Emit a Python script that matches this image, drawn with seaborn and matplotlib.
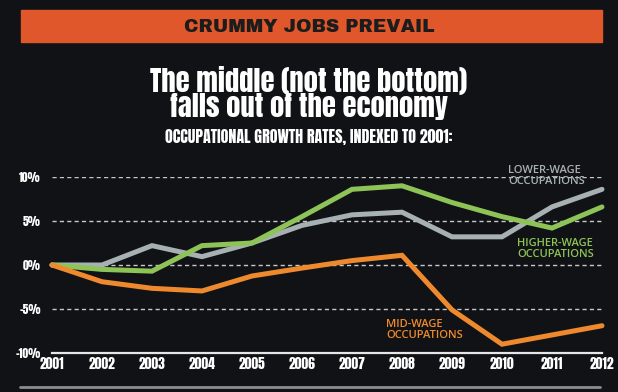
import pandas as pd
import numpy as np
import matplotlib.pyplot as plt
import seaborn as sns

years = list(range(2001, 2013))
lower_wage = [0, 0, 2.2, 0.95, 2.5, 4.5, 5.7, 6.0, 3.2, 3.2, 6.6, 8.6]
higher_wage = [0, -0.5, -0.7, 2.2, 2.5, 5.5, 8.6, 9.0, 7.1, 5.5, 4.2, 6.6]
mid_wage = [0, -1.9, -2.65, -2.95, -1.25, -0.35, 0.5, 1.1, -5.1, -9.0, -7.95, -6.9]
yticks = [-10, -5, 0, 5, 10]
ytick_labels = ["-10%", "-5%", "0%", "5%", "10%"]

bg = "#111216"
sns.set_style("dark", {"axes.facecolor": bg, "figure.facecolor": bg})
plt.rcParams["font.family"] = ["Anton", "DejaVu Sans"]
heavy = ["Anton", "DejaVu Sans"]
label_font = ["Open Sans", "DejaVu Sans"]

df = pd.DataFrame({
    "year": years * 3,
    "value": lower_wage + higher_wage + mid_wage,
    "group": ["lower"] * 12 + ["higher"] * 12 + ["mid"] * 12,
})
palette = {"lower": "#a7b1b4", "higher": "#8dc357", "mid": "#ee8a2d"}

fig = plt.figure(figsize=(6.18, 3.92), dpi=100)
ax = fig.add_axes([52 / 618, 39 / 392, 550 / 618, 176 / 392])

sns.lineplot(data=df, x="year", y="value", hue="group", palette=palette,
             hue_order=["lower", "higher", "mid"], linewidth=3.6, legend=False,
             ax=ax, clip_on=False, zorder=3)
for line in ax.lines:
    line.set_solid_joinstyle("miter")
    line.set_solid_capstyle("round")

ax.set_xlim(2001, 2012)
ax.set_ylim(-10, 10)
for y in [-5, 0, 5, 10]:
    ax.axhline(y, color="#c8c8c8", lw=1, ls=(0, (3, 2.3)), zorder=1)
ax.grid(False)
ax.set_yticks(yticks)
ax.set_yticklabels(ytick_labels)
ax.set_xticks(years)
ax.set_xticklabels([str(y) for y in years])
for s in ["top", "right", "left"]:
    ax.spines[s].set_visible(False)
ax.spines["bottom"].set_color("#e6e6e6")
ax.spines["bottom"].set_linewidth(1.6)
ax.tick_params(axis="x", direction="in", length=5, width=1.6, color="#e6e6e6",
               labelsize=9.8, labelcolor="white", pad=3)
ax.tick_params(axis="y", length=0, labelsize=8.3, labelcolor="white", pad=8)
ax.set_xlabel("")
ax.set_ylabel("")

ax.text(2010.12, 10.06, "LOWER-WAGE\nOCCUPATIONS", color="#a7b1b4", fontsize=8,
        ha="left", va="center", linespacing=1.0, family=label_font,
        fontweight="semibold")
ax.text(2010.3, 1.82, "HIGHER-WAGE\nOCCUPATIONS", color="#8dc357", fontsize=8,
        ha="left", va="center", linespacing=1.0, family=label_font,
        fontweight="semibold")
ax.text(2007.68, -7.44, "MID-WAGE\nOCCUPATIONS", color="#ee8a2d", fontsize=8,
        ha="left", va="center", linespacing=1.0, family=label_font,
        fontweight="semibold")

# banner
fig.patches.append(plt.Rectangle((21 / 618, 1 - 42 / 392), 581 / 618, 32 / 392,
                                 transform=fig.transFigure, color="#df572a", zorder=0))
fig.text(0.5, 1 - 27 / 392, "CRUMMY JOBS PREVAIL", ha="center", va="center",
         color="#1c1c1c", fontsize=13.3,
         family=["Archivo Black", "Liberation Sans", "DejaVu Sans"])
fig.text(0.5, 1 - 93 / 392, "The middle (not the bottom)\nfalls out of the economy",
         ha="center", va="center", color="white", fontsize=20.5, family=heavy,
         linespacing=0.9)
fig.text(0.5, 1 - 137 / 392, "OCCUPATIONAL GROWTH RATES, INDEXED TO 2001:",
         ha="center", va="center", color="white", fontsize=11.5, family=heavy)
fig.add_artist(plt.Line2D([20 / 618, 600 / 618], [1 - 387 / 392] * 2,
                          transform=fig.transFigure, color="#8c8c8c", lw=2))

fig.savefig("out.png", dpi=100, facecolor=bg)
